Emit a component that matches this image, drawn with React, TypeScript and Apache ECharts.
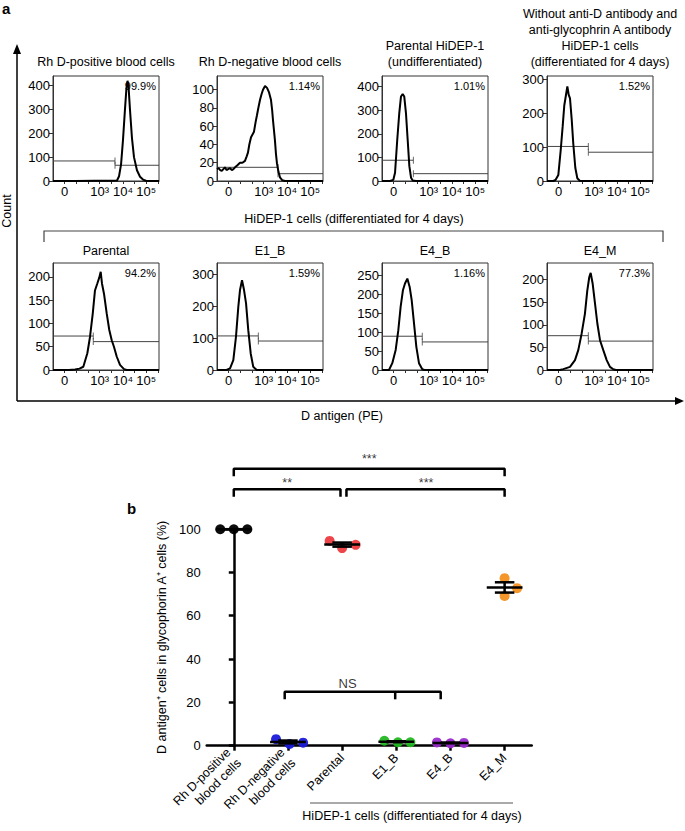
import React, { useEffect, useRef } from 'react';
import * as echarts from 'echarts';

// ---------------- Panel a : flow cytometry histograms ----------------
const histTitles: string[][] = [
  ['Rh D-positive blood cells'],
  ['Rh D-negative blood cells'],
  ['Parental HiDEP-1', '(undifferentiated)'],
  ['Without anti-D antibody and', 'anti-glycophrin A antibody', 'HiDEP-1 cells', '(differentiated for 4 days)'],
  ['Parental'],
  ['E1_B'],
  ['E4_B'],
  ['E4_M'],
];
const percentLabels = ['99.9%', '1.14%', '1.01%', '1.52%', '94.2%', '1.59%', '1.16%', '77.3%'];
const countMax = [440, 115, 445, 310, 230, 336, 282, 237];
const countInterval = [100, 20, 100, 100, 50, 100, 50, 50];
// biexponential display scale 0..100 : tick positions and labels
const xTickValues = [11, 44, 66, 88];
const xTickText = ['0', '10³', '10⁴', '10⁵'];
const gateBoundary = [58.5, 57.5, 29.6, 39, 38, 39, 38, 39];
const gateLeftCount = [84, 15, 88, 102, 73, 107, 89, 76];
const gateRightCount = [66, 8, 31, 85, 61, 91, 74, 64];

const histRhDPositive = [[0, 0], [20, 0], [40, 1], [55, 1], [60.4, 2], [62.3, 20], [64.2, 70], [66, 170], [67.9, 300], [69.3, 390], [70.3, 420], [71.2, 400], [72.6, 300], [74.5, 180], [76.4, 100], [79.2, 45], [82.1, 18], [84.9, 6], [87.7, 1], [91.5, 0], [100, 0]];
const histRhDNegative = [[0, 13], [1.5, 14], [3, 12], [4.5, 11], [6, 13], [7.5, 15], [9, 12], [10.5, 13], [12.3, 14], [14, 12], [15.5, 13], [17, 15], [19, 17], [21.7, 20], [24, 20], [26.4, 22], [28, 27], [29.2, 31], [30.5, 40], [32.1, 48], [34.9, 54], [36.5, 65], [37.7, 72], [39, 80], [40.6, 89], [42, 95], [43.4, 100], [45.3, 104], [47.2, 102], [49.1, 97], [50.9, 89], [52, 78], [52.8, 67], [53.8, 55], [54.7, 44], [55.6, 30], [56.6, 19], [58, 10], [59.4, 4], [61.5, 1], [64.2, 0], [100, 0]];
const histParentalUndiff = [[0, 0], [7.5, 0], [10.7, 5], [12.3, 35], [14.4, 176], [16.3, 288], [17.9, 358], [19.5, 368], [21, 358], [22.6, 288], [24.2, 176], [25.8, 63], [27.4, 14], [29, 2], [32, 0], [100, 0]];
const histNoAntibody = [[0, 0], [5.9, 0], [8, 3], [10.7, 18], [12.9, 90], [14.8, 162], [16.3, 223], [17.9, 254], [19.2, 279], [20.5, 254], [21.7, 244], [23.3, 182], [24.8, 110], [26.7, 39], [28.6, 8], [31.1, 0], [100, 0]];
const histParental = [[0, 0], [15, 0], [20.8, 1], [25, 3], [28.6, 7], [32.4, 36], [34.9, 71], [37.5, 121], [39.6, 171], [41.8, 186], [43.7, 199], [45, 211], [46.2, 186], [48.1, 164], [50.7, 121], [53.1, 86], [55.4, 64], [57.5, 50], [60.1, 29], [63.2, 11], [67, 2], [69.5, 0], [100, 0]];
const histE1B = [[0, 0], [9, 0], [12.3, 5], [15.4, 31], [17.9, 104], [20.1, 198], [21.7, 251], [23.6, 282], [25.5, 251], [27.4, 209], [29.5, 125], [31.8, 52], [34.2, 10], [37.5, 0], [100, 0]];
const histE4B = [[0, 0], [6.6, 0], [9.7, 18], [12.9, 53], [15.4, 105], [17.6, 167], [19.8, 211], [21.7, 228], [23.9, 241], [26.1, 219], [28, 184], [30.2, 123], [32.4, 61], [34.9, 18], [38, 2], [40, 0], [100, 0]];
const histE4M = [[0, 0], [12, 0], [15.4, 2], [21.7, 7], [26.4, 22], [29.5, 44], [32.7, 81], [35.8, 125], [38, 176], [39.9, 206], [41.2, 215], [43.1, 191], [45.3, 147], [47.5, 103], [50, 66], [53.1, 44], [56.3, 22], [59.4, 7], [62.5, 1.5], [65, 0], [100, 0]];
const histograms = [histRhDPositive, histRhDNegative, histParentalUndiff, histNoAntibody, histParental, histE1B, histE4B, histE4M];

// ---------------- Panel b : dot plot ----------------
const categories = ['Rh D-positive\nblood cells', 'Rh D-negative\nblood cells', 'Parental', 'E1_B', 'E4_B', 'E4_M'];
const groupColors = ['#000000', '#1a1ad8', '#ec3b3f', '#23b823', '#9a2ccb', '#f3901f'];
const rhDPositiveValues = [99.9, 99.9, 99.9];
const rhDNegativeValues = [3.0, 0.8, 1.4];
const parentalValues = [94.5, 91.2, 92.7];
const e1bValues = [2.3, 1.6, 1.6];
const e4bValues = [1.5, 1.1, 1.3];
const e4mValues = [77.3, 72.7, 69.1];
const groupValues = [rhDPositiveValues, rhDNegativeValues, parentalValues, e1bValues, e4bValues, e4mValues];
const groupJitter = [[-0.25, 0, 0.25], [-0.22, 0.03, 0.28], [-0.23, 0, 0.25], [-0.22, 0.03, 0.26], [-0.25, 0, 0.25], [0, 0.23, 0]];
const yTicksB = { min: 0, max: 100, interval: 20 };
// significance brackets
const bracketFrom = [0, 0, 2.08, 0.94];
const bracketTo = [5, 1.97, 5, 3.82];
const bracketMid = [null, null, null, 2.98];
const bracketLevel = [127.8, 118.4, 118.4, 24.9];
const bracketText = ['***', '**', '***', 'NS'];
const bracketTextX = [2.5, 0.985, 3.55, 2.1];
const bracketTextY = [132.4, 121.3, 121.3, 28.8];

const FONT = 'Liberation Sans, Arial, Helvetica, sans-serif';

function mean(a: number[]) {
  return a.reduce((s, v) => s + v, 0) / a.length;
}
function sem(a: number[]) {
  const m = mean(a);
  const v = a.reduce((s, x) => s + (x - m) * (x - m), 0) / (a.length - 1);
  return Math.sqrt(v / a.length);
}

function txt(text: string, x: number, y: number, size: number, opts: any = {}) {
  return {
    type: 'text',
    x,
    y,
    rotation: opts.rotation || 0,
    silent: true,
    style: {
      text,
      fill: opts.fill || '#000',
      font: `${opts.bold ? 'bold ' : ''}${size}px ${FONT}`,
      align: opts.align || 'center',
      verticalAlign: opts.vAlign || 'middle',
      textAlign: opts.align || 'center',
      textVerticalAlign: opts.vAlign || 'middle',
    },
  };
}

function buildOption() {
  const gridLefts = [53, 217, 382, 547];
  const rowTops = [76, 263];
  const rowHeights = [105, 107];
  const gridW = 106;

  const grid: any[] = [];
  const xAxis: any[] = [];
  const yAxis: any[] = [];
  const series: any[] = [];
  const graphic: any[] = [];

  for (let i = 0; i < 8; i++) {
    const col = i % 4;
    const row = Math.floor(i / 4);
    const left = gridLefts[col];
    const top = rowTops[row];
    grid.push({ left, top, width: gridW, height: rowHeights[row], show: true, borderColor: '#333', borderWidth: 1, backgroundColor: 'transparent' });
    xAxis.push({
      type: 'value', gridIndex: i, min: 0, max: 100, interval: 11,
      axisLine: { show: true, lineStyle: { color: '#333', width: 1 } },
      axisTick: { show: true, length: 3, lineStyle: { color: '#333' } },
      splitLine: { show: false },
      axisLabel: {
        margin: 4, fontSize: 13, color: '#000', fontFamily: FONT, showMaxLabel: false, showMinLabel: false,
        formatter: (v: number) => {
          const k = xTickValues.indexOf(Math.round(v));
          return k >= 0 ? xTickText[k] : '';
        },
      },
    });
    const itv = countInterval[i];
    yAxis.push({
      type: 'value', gridIndex: i, min: 0, max: countMax[i], interval: itv,
      axisLine: { show: true, lineStyle: { color: '#333', width: 1 } },
      axisTick: { show: true, length: 4, lineStyle: { color: '#333' } },
      splitLine: { show: false },
      axisLabel: {
        margin: 3, fontSize: 13, color: '#000', fontFamily: FONT, showMaxLabel: false,
        formatter: (v: number) => (Math.abs(v / itv - Math.round(v / itv)) < 1e-6 ? String(v) : ''),
      },
    });
    // gate lines
    const b = gateBoundary[i];
    const L = gateLeftCount[i];
    const R = gateRightCount[i];
    series.push({ type: 'line', xAxisIndex: i, yAxisIndex: i, data: [[0, L], [b, L]], symbol: 'none', lineStyle: { color: '#444', width: 1 }, z: 2, silent: true });
    series.push({ type: 'line', xAxisIndex: i, yAxisIndex: i, data: [[b, R], [100, R]], symbol: 'none', lineStyle: { color: '#444', width: 1 }, z: 2, silent: true });
    series.push({ type: 'scatter', xAxisIndex: i, yAxisIndex: i, data: [[b, L], [b, R]], symbol: 'rect', symbolSize: [1, 7], itemStyle: { color: '#444' }, z: 2, silent: true });
    // histogram
    series.push({ type: 'line', xAxisIndex: i, yAxisIndex: i, data: histograms[i], symbol: 'none', showSymbol: false, lineStyle: { color: '#000', width: 2 }, z: 3, silent: true });

    // titles
    const lines = histTitles[i];
    const baseY = row === 0 ? 62 : 251;
    lines.forEach((t, k) => {
      graphic.push(txt(t, left + gridW / 2, baseY - (lines.length - 1 - k) * 16, 12.5));
    });
    graphic.push(txt(percentLabels[i], left + gridW - 3, top + 10, 11, { align: 'right' }));
  }

  // ---- panel a decorations ----
  graphic.push(txt('a', 2, 8, 15, { bold: true, align: 'left' }));
  graphic.push({ type: 'line', silent: true, shape: { x1: 17, y1: 401, x2: 17, y2: 52 }, style: { stroke: '#000', lineWidth: 1.5 } });
  graphic.push({ type: 'polygon', silent: true, shape: { points: [[13, 54], [21, 54], [17, 44]] }, style: { fill: '#000' } });
  graphic.push({ type: 'line', silent: true, shape: { x1: 17, y1: 401, x2: 676, y2: 401 }, style: { stroke: '#000', lineWidth: 1.5 } });
  graphic.push({ type: 'polygon', silent: true, shape: { points: [[675, 397], [675, 405], [684, 401]] }, style: { fill: '#000' } });
  graphic.push(txt('Count', 7, 211, 12.5, { rotation: Math.PI / 2 }));
  graphic.push(txt('D antigen (PE)', 342, 416, 12.5));
  graphic.push({ type: 'polyline', silent: true, shape: { points: [[44, 242], [44, 231], [663, 231], [663, 242]] }, style: { stroke: '#444', lineWidth: 1.2, fill: 'none' } });
  graphic.push(txt('HiDEP-1 cells (differentiated for 4 days)', 354, 219, 12.5));

  // ---- panel b ----
  const gb = 8;
  grid.push({ left: 206.7, top: 529, width: 325, height: 216.7, show: false });
  xAxis.push({
    type: 'category', gridIndex: gb, data: categories, boundaryGap: true,
    axisLine: { show: true, lineStyle: { color: '#000', width: 2.5 } },
    axisTick: { show: true, alignWithLabel: true, length: 5, lineStyle: { color: '#000', width: 2.5 } },
    axisLabel: { interval: 0, rotate: 45, margin: 10, fontSize: 12.5, lineHeight: 15, color: '#000', fontFamily: FONT },
    splitLine: { show: false },
  });
  xAxis.push({ type: 'value', gridIndex: gb, min: -0.5, max: 5.5, show: false });
  yAxis.push({
    type: 'value', gridIndex: gb, min: yTicksB.min, max: yTicksB.max, interval: yTicksB.interval,
    name: 'D antigen⁺ cells in glycophorin A⁺ cells (%)', nameLocation: 'middle', nameGap: 38,
    nameTextStyle: { fontSize: 12.5, color: '#000', fontFamily: FONT },
    axisLine: { show: true, lineStyle: { color: '#000', width: 2.5 } },
    axisTick: { show: true, length: 5, lineStyle: { color: '#000', width: 2.5 } },
    axisLabel: { fontSize: 13, color: '#000', margin: 6, fontFamily: FONT },
    splitLine: { show: false },
  });
  const xb = 9;
  const yb = 8;
  groupValues.forEach((vals, gi) => {
    series.push({
      type: 'scatter', xAxisIndex: xb, yAxisIndex: yb, symbolSize: 10, z: 3, silent: true,
      itemStyle: { color: groupColors[gi], opacity: 0.95 },
      data: vals.map((v, k) => [gi + groupJitter[gi][k], v]),
    });
  });
  const errData = groupValues.map((vals, gi) => [gi, mean(vals), sem(vals)]);
  series.push({
    type: 'custom', xAxisIndex: xb, yAxisIndex: yb, z: 4, silent: true,
    data: errData,
    renderItem: (params: any, api: any) => {
      const x = api.value(0);
      const m = api.value(1);
      const s = api.value(2);
      const c = api.coord([x, m]);
      const t = api.coord([x, m + s]);
      const bt = api.coord([x, m - s]);
      const half = api.size([0.33, 0])[0];
      const cap = api.size([0.18, 0])[0];
      const st = { stroke: '#000', lineWidth: 2.5 };
      return {
        type: 'group',
        children: [
          { type: 'line', shape: { x1: c[0] - half, y1: c[1], x2: c[0] + half, y2: c[1] }, style: st },
          { type: 'line', shape: { x1: c[0], y1: t[1], x2: c[0], y2: bt[1] }, style: st },
          { type: 'line', shape: { x1: c[0] - cap, y1: t[1], x2: c[0] + cap, y2: t[1] }, style: st },
          { type: 'line', shape: { x1: c[0] - cap, y1: bt[1], x2: c[0] + cap, y2: bt[1] }, style: st },
        ],
      };
    },
  });
  const leg = 3.5;
  bracketFrom.forEach((f, k) => {
    const to = bracketTo[k];
    const y = bracketLevel[k];
    series.push({
      type: 'line', xAxisIndex: xb, yAxisIndex: yb, clip: false, symbol: 'none', silent: true,
      lineStyle: { color: '#000', width: 2.5 }, z: 5,
      data: [[f, y - leg], [f, y], [to, y], [to, y - leg]],
    });
    const mid = bracketMid[k];
    if (mid !== null) {
      series.push({
        type: 'line', xAxisIndex: xb, yAxisIndex: yb, clip: false, symbol: 'none', silent: true,
        lineStyle: { color: '#000', width: 2.5 }, z: 5,
        data: [[mid, y], [mid, y - leg]],
      });
    }
    series.push({
      type: 'scatter', xAxisIndex: xb, yAxisIndex: yb, clip: false, symbolSize: 0, silent: true, z: 5,
      data: [[bracketTextX[k], bracketTextY[k]]],
      label: { show: true, position: 'inside', formatter: bracketText[k], fontSize: bracketText[k] === 'NS' ? 13 : 12.5, color: '#000', fontFamily: FONT },
    });
  });
  graphic.push(txt('b', 127, 508, 15, { bold: true, align: 'left' }));
  graphic.push({ type: 'line', silent: true, shape: { x1: 310, y1: 803, x2: 513, y2: 803 }, style: { stroke: '#555', lineWidth: 1 } });
  graphic.push(txt('HiDEP-1 cells (differentiated for 4 days)', 412, 816, 12.5));

  return {
    animation: false,
    backgroundColor: '#fff',
    textStyle: { fontFamily: FONT },
    grid,
    xAxis,
    yAxis,
    series,
    graphic,
  };
}

export default function App() {
  const ref = useRef<HTMLDivElement>(null);
  useEffect(() => {
    document.body.style.margin = '0';
    const chart = echarts.init(ref.current as HTMLDivElement, null, { renderer: 'svg' });
    chart.setOption(buildOption() as any);
    return () => chart.dispose();
  }, []);
  return <div ref={ref} style={{ position: 'fixed', left: 0, top: 0, width: 685, height: 831, background: '#fff' }} />;
}
